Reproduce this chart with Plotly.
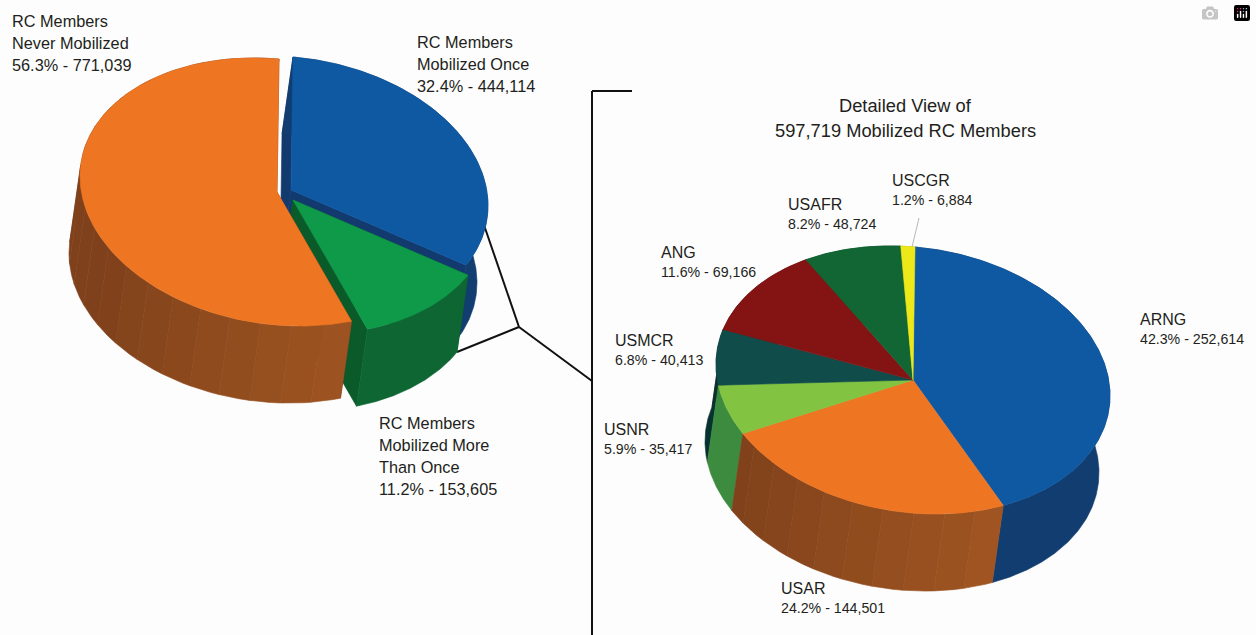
import numpy as np
import plotly.graph_objects as go

# ---- data ----
overview_names = ["RC Members|Mobilized Once", "RC Members|Mobilized More|Than Once", "RC Members|Never Mobilized"]
overview_values = [444114, 153605, 771039]
detail_names = ["ARNG", "USAR", "USNR", "USMCR", "ANG", "USAFR", "USCGR"]
detail_values = [252614, 144501, 35417, 40413, 69166, 48724, 6884]

# ---- styles ----
overview_top = ["#0f59a3", "#0f9a49", "#ee7623"]
overview_side = ["#123d70", "#0e6733", None]
overview_cut = ["#123a6e", "#0b5a2a", "#7f421b"]
overview_centres = [(291, 190), (293, 200), (277, 192)]
detail_top = ["#0f59a3", "#ee7623", "#82c341", "#0f4c4a", "#841414", "#116633", "#ece81a"]
detail_side = ["#123d70", None, "#3d8b3f", "#06322f", "#5a0f0f", "#0c4a25", "#a8a512"]
detail_centre = (913, 380)

A, B, SKEW, LEAN = 197, 133, 17, 2
DEPTH = (-11, 77)

fig = go.Figure()


def arc(c, t0, t1, off=(0, 0)):
    t = np.radians(np.linspace(t0, t1, max(3, int(abs(t1 - t0) * 2))))
    x = c[0] + A * np.sin(t) + LEAN * np.cos(t) + off[0]
    y = c[1] - B * np.cos(t) + SKEW * np.sin(t) + off[1]
    return x, y


def poly(x, y, color, name):
    fig.add_trace(go.Scatter(x=list(x) + [x[0]], y=list(y) + [y[0]], mode="lines", fill="toself",
                             fillcolor=color, line=dict(color=color, width=0.6),
                             hoverinfo="text", text=name, showlegend=False))


def side(c, t0, t1, color, name):
    x0, y0 = arc(c, t0, t1)
    x1, y1 = arc(c, t0, t1, DEPTH)
    poly(np.r_[x0, x1[::-1]], np.r_[y0, y1[::-1]], color, name)


def orange_shade(t):
    f = np.clip((t - 155) / 85, 0, 1)
    dark, light = np.array([0x7f, 0x41, 0x1b]), np.array([0xa0, 0x55, 0x22])
    r, g, b = (light + (dark - light) * f).astype(int)
    return f"rgb({r},{g},{b})"


def banded_side(c, t0, t1, name):
    edges = np.arange(t0, t1, 9.0).tolist() + [t1]
    for a0, a1 in zip(edges[:-1], edges[1:]):
        side(c, a0, a1, orange_shade((a0 + a1) / 2), name)


def cut(c, t, color, name):
    ex, ey = arc(c, t, t)
    xs = [c[0], ex[0], ex[0] + DEPTH[0], c[0] + DEPTH[0]]
    ys = [c[1], ey[0], ey[0] + DEPTH[1], c[1] + DEPTH[1]]
    poly(xs, ys, color, name)


def top(c, t0, t1, color, name):
    x, y = arc(c, t0, t1)
    poly(np.r_[c[0], x], np.r_[c[1], y], color, name)


def spans(values):
    cum = np.cumsum([0] + list(values)) / sum(values) * 360
    return list(zip(cum[:-1], cum[1:]))


# overview pie (exploded)
for i, (t0, t1) in enumerate(spans(overview_values)):
    c = overview_centres[i]
    name = overview_names[i].replace("|", " ")
    cut(c, t0, overview_cut[i], name)
    cut(c, t1, overview_cut[i], name)
    if overview_side[i]:
        side(c, t0, t1, overview_side[i], name)
    else:
        banded_side(c, t0, t1, name)
    top(c, t0, t1, overview_top[i], name)

# detail pie
detail_spans = spans(detail_values)
for i in [6, 5, 4, 3, 2, 0, 1]:
    t0, t1 = detail_spans[i]
    if detail_side[i]:
        side(detail_centre, t0, t1, detail_side[i], detail_names[i])
    else:
        banded_side(detail_centre, t0, t1, detail_names[i])
for i, (t0, t1) in enumerate(detail_spans):
    top(detail_centre, t0, t1, detail_top[i], detail_names[i])


# ---- text ----
def stat(values, i):
    return f"{values[i] / sum(values) * 100:.1f}% - {values[i]:,}"


def text(x, y, s, size, anchor="left"):
    fig.add_annotation(x=x, y=y, text=s, showarrow=False, xanchor=anchor, yanchor="middle",
                       xshift=0, font=dict(family="Liberation Sans", size=size, color="#231f20"))


def overview_label(i, x, y):
    lines = overview_names[i].split("|") + [stat(overview_values, i)]
    for k, line in enumerate(lines):
        text(x, y + k * 22, line, 16.3)


overview_label(2, 10, 21)
overview_label(0, 415, 42)
overview_label(1, 377, 423)

detail_positions = {0: (1138, 319), 1: (779, 588), 2: (602, 429), 3: (613, 340),
                    4: (659, 252), 5: (786, 204), 6: (890, 180)}
for i, (x, y) in detail_positions.items():
    text(x, y, detail_names[i], 16)
    text(x, y + 20, stat(detail_values, i), 14.2)

text(905, 105, "Detailed View of", 18.3, "center")
text(905, 130, f"{sum(detail_values):,} Mobilized RC Members", 18.3, "center")


# ---- connector lines ----
def seg(x0, y0, x1, y1, color="#111111", width=2):
    fig.add_shape(type="line", x0=x0, y0=y0, x1=x1, y1=y1, layer="below" if color != "#111111" else "below",
                  line=dict(color=color, width=width))


seg(632, 91, 592, 91)
seg(592, 91, 592, 635)
seg(484, 225, 519, 327)
seg(457, 352, 519, 327)
seg(519, 327, 592, 381)
seg(912, 247, 919, 218, "#b8b8b8", 1)

fig.update_layout(width=1256, height=635, margin=dict(l=0, r=0, t=0, b=0),
                  paper_bgcolor="#fdfdfd", plot_bgcolor="#fdfdfd", showlegend=False,
                  xaxis=dict(visible=False, range=[0, 1256], fixedrange=True),
                  yaxis=dict(visible=False, range=[635, 0], fixedrange=True))

fig.write_html("out.html", post_script="document.body.style.margin='0';document.body.style.overflow='hidden';")
